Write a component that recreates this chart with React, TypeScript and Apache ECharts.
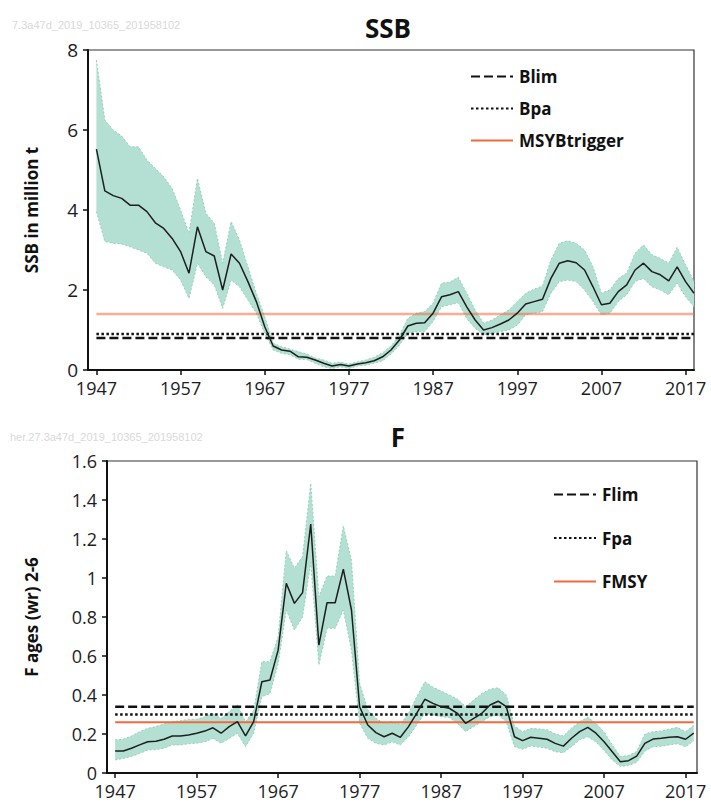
import React, { useEffect, useRef } from "react";
import * as echarts from "echarts";

const years = [
  1947, 1948, 1949, 1950, 1951, 1952, 1953, 1954, 1955, 1956, 1957, 1958, 1959, 1960, 1961, 1962, 1963, 1964,
  1965, 1966, 1967, 1968, 1969, 1970, 1971, 1972, 1973, 1974, 1975, 1976, 1977, 1978, 1979, 1980, 1981, 1982,
  1983, 1984, 1985, 1986, 1987, 1988, 1989, 1990, 1991, 1992, 1993, 1994, 1995, 1996, 1997, 1998, 1999, 2000,
  2001, 2002, 2003, 2004, 2005, 2006, 2007, 2008, 2009, 2010, 2011, 2012, 2013, 2014, 2015, 2016, 2017, 2018,
];

const ssbMedian = [
  5.52, 4.48, 4.36, 4.29, 4.12, 4.12, 3.96, 3.68, 3.54, 3.29, 2.96, 2.42, 3.58, 2.96, 2.85, 2.0, 2.9, 2.67,
  2.21, 1.71, 1.08, 0.6, 0.5, 0.47, 0.33, 0.32, 0.25, 0.17, 0.1, 0.14, 0.1, 0.15, 0.18, 0.23, 0.33, 0.5,
  0.75, 1.1, 1.17, 1.18, 1.42, 1.83, 1.88, 1.96, 1.58, 1.25, 1.0, 1.06, 1.15, 1.25, 1.42, 1.65, 1.71, 1.77,
  2.29, 2.67, 2.73, 2.68, 2.5, 2.08, 1.63, 1.67, 1.96, 2.13, 2.5, 2.67, 2.46, 2.38, 2.23, 2.58, 2.21, 1.92,
];
const ssbHigh = [
  7.75, 6.25, 6.0, 5.85, 5.58, 5.58, 5.25, 5.04, 4.83, 4.54, 4.0, 3.42, 4.79, 3.92, 3.67, 2.67, 3.71, 3.25,
  2.58, 1.92, 1.33, 0.67, 0.58, 0.52, 0.46, 0.4, 0.3, 0.25, 0.17, 0.2, 0.15, 0.2, 0.25, 0.32, 0.43, 0.6,
  0.87, 1.29, 1.42, 1.46, 1.67, 2.17, 2.2, 2.32, 1.92, 1.5, 1.17, 1.25, 1.38, 1.5, 1.71, 1.92, 2.02, 2.1,
  2.75, 3.17, 3.23, 3.17, 3.0, 2.58, 1.92, 2.0, 2.29, 2.42, 2.92, 3.13, 2.88, 2.79, 2.67, 3.07, 2.63, 2.21,
];
const ssbLow = [
  3.96, 3.21, 3.17, 3.15, 3.08, 3.0, 2.92, 2.67, 2.58, 2.5, 2.25, 1.79, 2.67, 2.33, 2.13, 1.54, 2.25, 2.08,
  1.75, 1.42, 0.92, 0.5, 0.42, 0.38, 0.27, 0.26, 0.17, 0.08, 0.04, 0.08, 0.04, 0.1, 0.12, 0.17, 0.23, 0.4,
  0.62, 0.92, 0.96, 0.96, 1.21, 1.58, 1.63, 1.68, 1.29, 1.04, 0.88, 0.92, 0.96, 1.0, 1.12, 1.38, 1.42, 1.46,
  1.92, 2.21, 2.25, 2.21, 2.0, 1.71, 1.38, 1.42, 1.71, 1.88, 2.21, 2.29, 2.08, 2.0, 1.88, 2.17, 1.83, 1.58,
];

const fMedian = [
  0.113, 0.113, 0.127, 0.144, 0.16, 0.163, 0.173, 0.19, 0.19, 0.195, 0.204, 0.215, 0.232, 0.204, 0.238, 0.263, 0.19, 0.263,
  0.468, 0.477, 0.63, 0.973, 0.87, 0.925, 1.277, 0.656, 0.873, 0.873, 1.045, 0.836, 0.34, 0.246, 0.207, 0.186, 0.204, 0.183,
  0.238, 0.306, 0.378, 0.357, 0.34, 0.332, 0.306, 0.255, 0.28, 0.306, 0.349, 0.368, 0.34, 0.186, 0.166, 0.183, 0.178, 0.173,
  0.152, 0.138, 0.178, 0.212, 0.234, 0.204, 0.16, 0.109, 0.058, 0.063, 0.087, 0.152, 0.174, 0.178, 0.183, 0.186, 0.173, 0.204,
];
const fHigh = [
  0.17, 0.173, 0.19, 0.212, 0.229, 0.238, 0.251, 0.263, 0.268, 0.275, 0.275, 0.289, 0.306, 0.28, 0.315, 0.349, 0.263, 0.32,
  0.571, 0.571, 0.7, 1.14, 1.05, 1.11, 1.486, 0.904, 1.01, 1.01, 1.267, 1.09, 0.46, 0.323, 0.28, 0.255, 0.263, 0.25,
  0.306, 0.39, 0.468, 0.44, 0.42, 0.4, 0.38, 0.34, 0.374, 0.408, 0.43, 0.437, 0.4, 0.241, 0.212, 0.229, 0.226, 0.222,
  0.2, 0.19, 0.23, 0.263, 0.286, 0.255, 0.21, 0.144, 0.084, 0.09, 0.11, 0.2, 0.212, 0.215, 0.225, 0.234, 0.212, 0.245,
];
const fLow = [
  0.067, 0.075, 0.085, 0.1, 0.118, 0.12, 0.127, 0.144, 0.144, 0.15, 0.153, 0.16, 0.177, 0.153, 0.177, 0.204, 0.135, 0.204,
  0.391, 0.408, 0.56, 0.836, 0.733, 0.8, 1.08, 0.554, 0.742, 0.742, 0.836, 0.63, 0.255, 0.178, 0.152, 0.144, 0.16, 0.144,
  0.186, 0.246, 0.306, 0.297, 0.289, 0.285, 0.255, 0.212, 0.238, 0.263, 0.289, 0.297, 0.263, 0.135, 0.122, 0.138, 0.133, 0.127,
  0.109, 0.104, 0.135, 0.17, 0.186, 0.16, 0.115, 0.067, 0.033, 0.038, 0.055, 0.112, 0.135, 0.137, 0.144, 0.15, 0.135, 0.166,
];

const xTicks = [1947, 1957, 1967, 1977, 1987, 1997, 2007, 2017];
const ssbRefNames = ["Blim", "Bpa", "MSYBtrigger"];
const ssbRefValues = [0.8, 0.9, 1.4];
const fRefNames = ["Flim", "Fpa", "FMSY"];
const fRefValues = [0.34, 0.3, 0.26];

const FONT = "'Open Sans', 'Liberation Sans', sans-serif";
const BAND = "#b3e0d2";
const BAND_EDGE = "#93d1bd";
const INK = "#1c1c24";
const ORANGE = "#f26a3c";

function pairs(vals: number[]) {
  return years.map((y, i) => [y, vals[i]]);
}

function band(idx: number, lo: number[], hi: number[]) {
  return {
    type: "custom",
    xAxisIndex: idx,
    yAxisIndex: idx,
    silent: true,
    z: 1,
    data: years.map((y, i) => [y, lo[i], hi[i]]),
    encode: { x: 0, y: [1, 2] },
    renderItem: (params: any, api: any) => {
      if (params.dataIndex !== 0) return null;
      const pts: number[][] = [];
      for (let i = 0; i < years.length; i++) pts.push(api.coord([years[i], hi[i]]));
      for (let i = years.length - 1; i >= 0; i--) pts.push(api.coord([years[i], lo[i]]));
      return { type: "polygon", shape: { points: pts }, style: { fill: BAND, stroke: null } };
    },
  };
}

function edge(idx: number, vals: number[]) {
  return {
    type: "line",
    xAxisIndex: idx,
    yAxisIndex: idx,
    data: pairs(vals),
    symbol: "none",
    silent: true,
    z: 2,
    lineStyle: { color: BAND_EDGE, width: 1, type: [2, 2] },
  };
}

function median(idx: number, vals: number[]) {
  return {
    type: "line",
    xAxisIndex: idx,
    yAxisIndex: idx,
    data: pairs(vals),
    symbol: "none",
    silent: true,
    z: 4,
    lineStyle: { color: "#1e1e1e", width: 1.5 },
  };
}

function refLine(idx: number, name: string, value: number, style: any) {
  return {
    type: "line",
    name,
    xAxisIndex: idx,
    yAxisIndex: idx,
    data: [
      [years[0], value],
      [years[years.length - 1], value],
    ],
    symbol: "none",
    silent: true,
    z: 3,
    lineStyle: style,
    itemStyle: { color: style.color },
  };
}

const dashed = { color: "#111", width: 2.5, type: [9, 4] };
const dotted = { color: "#111", width: 2.5, type: [2.5, 2.5] };

function xAxis(idx: number, max: number) {
  return {
    type: "value",
    gridIndex: idx,
    min: 1946,
    max,
    splitLine: { show: false },
    axisLine: { show: true, onZero: false, lineStyle: { color: "#111", width: 2 } },
    axisTick: { show: true, customValues: xTicks, length: 5, lineStyle: { color: "#111", width: 1.5 } },
    axisLabel: {
      customValues: xTicks,
      formatter: (v: number) => String(v),
      fontSize: 18,
      color: INK,
      margin: 9,
      fontFamily: FONT,
    },
  };
}

function yAxis(idx: number, max: number, interval: number, name: string, nameGap: number, labelSize: number) {
  return {
    type: "value",
    gridIndex: idx,
    min: 0,
    max,
    interval,
    name,
    nameLocation: "middle",
    nameGap,
    nameTextStyle: { fontSize: 17, fontWeight: "bold", fontFamily: FONT, color: "#111" },
    splitLine: { show: false },
    axisLine: { show: true, lineStyle: { color: "#111", width: 2 } },
    axisTick: { show: true, length: 5, lineStyle: { color: "#111", width: 1.5 } },
    axisLabel: { fontSize: labelSize, color: INK, margin: 10, fontFamily: FONT },
  };
}

function legend(names: string[], top: number, left: number, gap: number) {
  return {
    data: names.map((n) => ({ name: n, itemStyle: { opacity: 0 } })),
    orient: "vertical",
    left,
    top,
    itemWidth: 42,
    itemHeight: 14,
    itemGap: gap,
    selectedMode: false,
    itemStyle: { opacity: 0 },
    lineStyle: { opacity: 1 },
    textStyle: { fontSize: 17, fontWeight: "bold", fontFamily: FONT, color: "#111", padding: [0, 0, 0, 1] },
  };
}

export default function App() {
  const ref = useRef<HTMLDivElement>(null);
  useEffect(() => {
    if (!ref.current) return;
    const chart = echarts.init(ref.current, null, { renderer: "svg" });
    const option: any = {
      animation: false,
      backgroundColor: "#fff",
      grid: [
        { left: 88, top: 50, width: 606, height: 320, show: true, borderColor: "#333", borderWidth: 1.2, backgroundColor: "transparent" },
        { left: 107, top: 461, width: 590, height: 312, show: true, borderColor: "#333", borderWidth: 1.2, backgroundColor: "transparent" },
      ],
      xAxis: [xAxis(0, 2018), xAxis(1, 2018.4)],
      yAxis: [
        yAxis(0, 8, 2, "SSB in million t", 48, 19),
        yAxis(1, 1.6, 0.2, "F ages (wr) 2-6", 67, 18),
      ],
      legend: [legend(ssbRefNames, 63, 465, 15), legend(fRefNames, 481, 548, 26.5)],
      graphic: [
        { type: "text", left: 12, top: 19, style: { text: "7.3a47d_2019_10365_201958102", fill: "#d9d9d9", font: "11px 'Liberation Sans', sans-serif" } },
        { type: "text", left: 10, top: 431, style: { text: "her.27.3a47d_2019_10365_201958102", fill: "#d9d9d9", font: "11px 'Liberation Sans', sans-serif" } },
        { type: "text", x: 388, y: 28, style: { text: "SSB", fill: "#111", font: `bold 26px ${FONT}`, textAlign: "center", textVerticalAlign: "middle" } },
        { type: "text", x: 398, y: 437, style: { text: "F", fill: "#111", font: `bold 26px ${FONT}`, textAlign: "center", textVerticalAlign: "middle" } },
      ],
      series: [
        band(0, ssbLow, ssbHigh),
        edge(0, ssbHigh),
        edge(0, ssbLow),
        refLine(0, ssbRefNames[0], ssbRefValues[0], dashed),
        refLine(0, ssbRefNames[1], ssbRefValues[1], dotted),
        refLine(0, ssbRefNames[2], ssbRefValues[2], { color: ORANGE, width: 2.5, opacity: 0.55 }),
        median(0, ssbMedian),
        band(1, fLow, fHigh),
        edge(1, fHigh),
        edge(1, fLow),
        refLine(1, fRefNames[0], fRefValues[0], dashed),
        refLine(1, fRefNames[1], fRefValues[1], dotted),
        refLine(1, fRefNames[2], fRefValues[2], { color: ORANGE, width: 2 }),
        median(1, fMedian),
      ],
    };
    chart.setOption(option);
    return () => chart.dispose();
  }, []);
  return <div ref={ref} style={{ position: "absolute", left: 0, top: 0, width: 711, height: 805 }} />;
}
